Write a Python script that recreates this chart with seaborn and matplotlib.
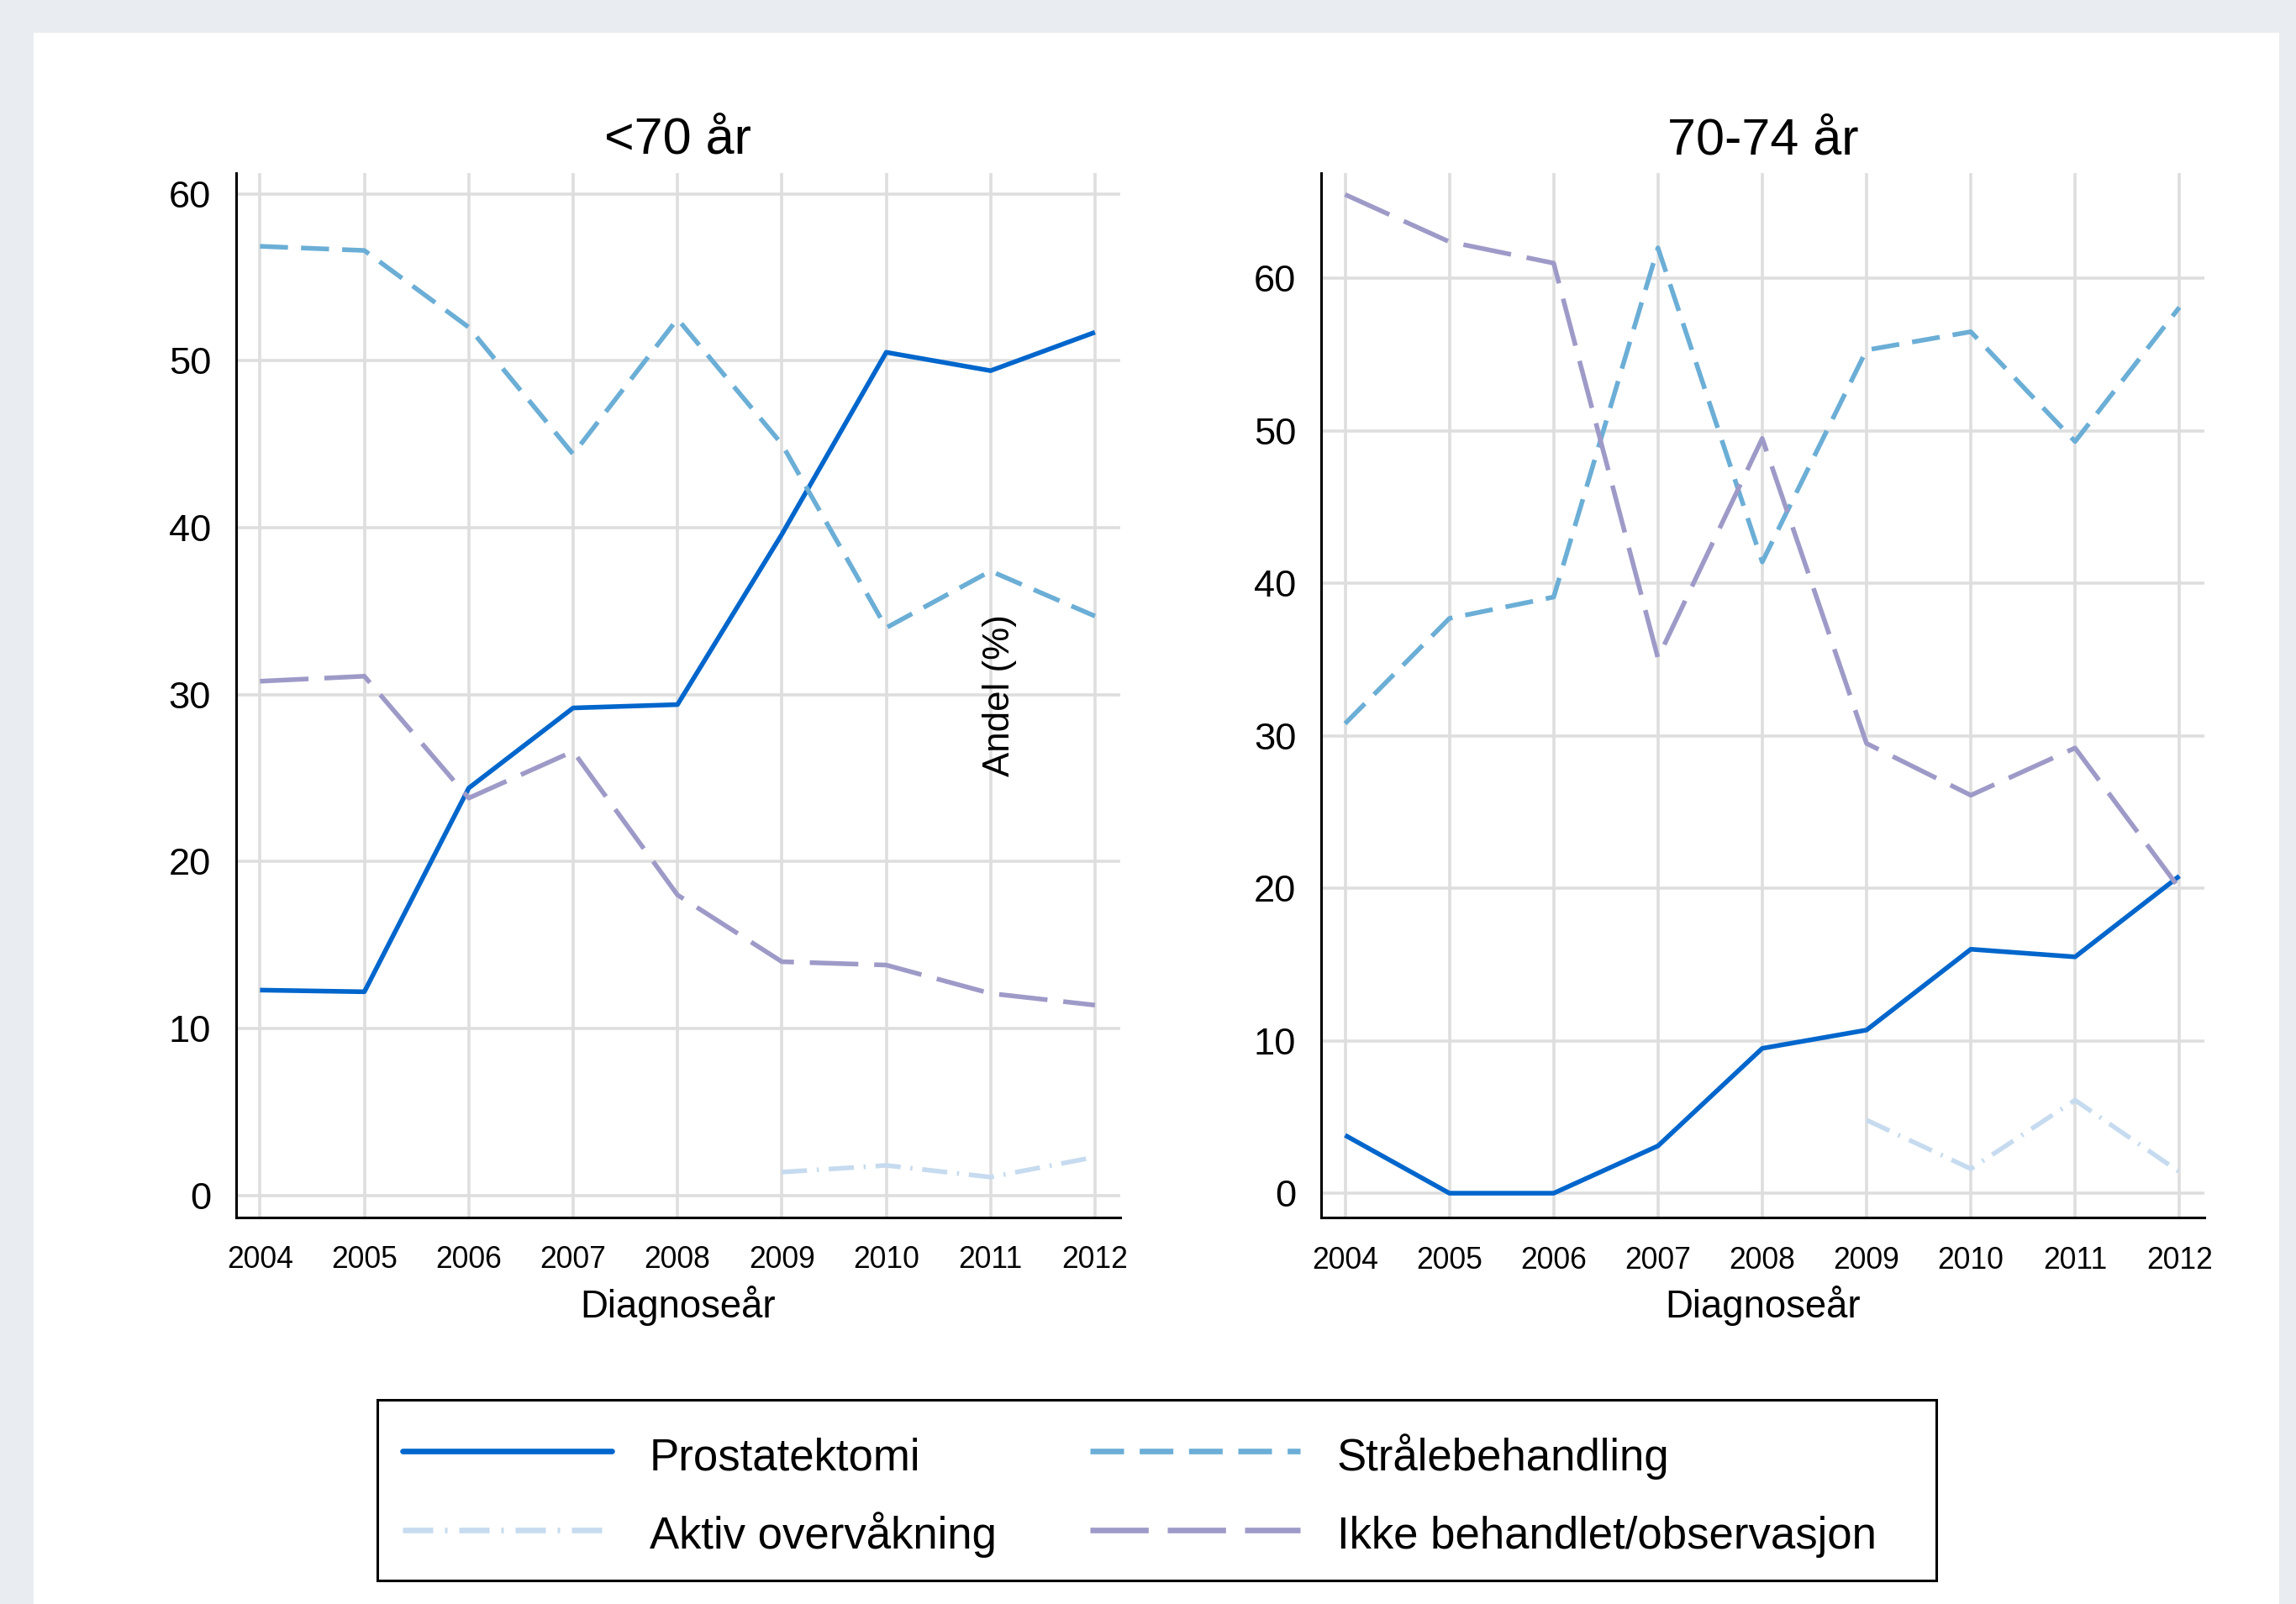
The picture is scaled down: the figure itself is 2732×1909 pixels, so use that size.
import numpy as np
import pandas as pd
import matplotlib
matplotlib.use("Agg")
import matplotlib.pyplot as plt
from matplotlib.lines import Line2D
from matplotlib.patches import Rectangle
import seaborn as sns

# ---- data -------------------------------------------------------------
years = [2004, 2005, 2006, 2007, 2008, 2009, 2010, 2011, 2012]
treatments = ["Prostatektomi", "Strålebehandling",
              "Aktiv overvåkning", "Ikke behandlet/observasjon"]
panel_titles = ["<70 år", "70-74 år"]
y_ticks = [0, 10, 20, 30, 40, 50, 60]

nan = np.nan
# <70 år
u70_prostatektomi = [12.3, 12.2, 24.4, 29.2, 29.4, 39.6, 50.5, 49.4, 51.7]
u70_straale = [56.85, 56.6, 52.0, 44.4, 52.5, 45.0, 34.0, 37.4, 34.7]
u70_aktiv = [nan, nan, nan, nan, nan, 1.4, 1.8, 1.1, 2.3]
u70_ikke = [30.8, 31.1, 23.8, 26.6, 18.0, 14.0, 13.8, 12.1, 11.4]
# 70-74 år
a7074_prostatektomi = [3.8, 0.0, 0.0, 3.1, 9.5, 10.7, 16.0, 15.5, 20.8]
a7074_straale = [30.8, 37.7, 39.1, 62.0, 41.4, 55.3, 56.5, 49.3, 58.1]
a7074_aktiv = [nan, nan, nan, nan, nan, 4.8, 1.6, 6.1, 1.4]
a7074_ikke = [65.5, 62.4, 61.0, 35.1, 49.5, 29.5, 26.1, 29.2, 20.0]

panel_series = [
    [u70_prostatektomi, u70_straale, u70_aktiv, u70_ikke],
    [a7074_prostatektomi, a7074_straale, a7074_aktiv, a7074_ikke],
]

# ---- styling ----------------------------------------------------------
colors = {
    "Prostatektomi": "#0066cc",
    "Strålebehandling": "#6baed6",
    "Aktiv overvåkning": "#c6dbef",
    "Ikke behandlet/observasjon": "#9e9ac8",
}
dashes = {
    "Prostatektomi": "",
    "Strålebehandling": (6.0, 2.8),
    "Aktiv overvåkning": (5.4, 2.1, 0.45, 2.1),
    "Ikke behandlet/observasjon": (10.4, 3.4),
}
LINE_W = 2.0

sns.set_style("white")
plt.rcParams["font.family"] = ["Liberation Sans", "DejaVu Sans"]
for key in ("text.color", "axes.labelcolor", "xtick.color", "ytick.color"):
    plt.rcParams[key] = "black"

W, H = 2732, 1909
DPI = 200
fig = plt.figure(figsize=(W / DPI, H / DPI), dpi=DPI, facecolor="#e9ecf1")

# white page behind the plots
fig.patches.append(Rectangle((40 / W, 0), (2712 - 40) / W, 1 - 39 / H,
                             transform=fig.transFigure, facecolor="white",
                             edgecolor="none", zorder=-1))

ax_boxes = [
    (280.8, 1332.7, 205.9, 1449.0),
    (1572.0, 2623.0, 206.1, 1449.3),
]
ylims = [(-1.32, 61.24), (-1.61, 66.9)]
xlim = (2003.77, 2012.24)

for i, (x0, x1, yt, yb) in enumerate(ax_boxes):
    ax = fig.add_axes([x0 / W, 1 - yb / H, (x1 - x0) / W, (yb - yt) / H])
    rows = []
    for name, vals in zip(treatments, panel_series[i]):
        for yr, v in zip(years, vals):
            if not np.isnan(v):
                rows.append({"Diagnoseår": yr, "Andel": v, "Behandling": name})
    df = pd.DataFrame(rows)
    sns.lineplot(data=df, x="Diagnoseår", y="Andel", hue="Behandling",
                 style="Behandling", hue_order=treatments,
                 style_order=treatments, palette=colors, dashes=dashes,
                 estimator=None, legend=False, ax=ax)
    for ln in ax.lines:
        ln.set_linewidth(LINE_W)
        ln.set_solid_capstyle("butt")

    ax.set_xlim(*xlim)
    ax.set_ylim(*ylims[i])
    ax.set_xticks(years)
    ax.set_xticklabels([str(y) for y in years])
    ax.set_yticks(y_ticks)
    ax.grid(True, color="#dedede", linewidth=1.3)
    ax.set_axisbelow(True)
    for side in ("top", "right"):
        ax.spines[side].set_visible(False)
    for side in ("left", "bottom"):
        ax.spines[side].set_color("black")
        ax.spines[side].set_linewidth(1.1)
    ax.tick_params(axis="both", which="major", direction="out", length=6.4,
                   width=1.1, color="black")
    ax.tick_params(axis="y", labelsize=16.3, pad=4.3)
    ax.tick_params(axis="x", labelsize=12.8, pad=5.6)
    ax.set_ylabel("")
    ax.set_xlabel("Diagnoseår", fontsize=16.4, labelpad=4.5)
    ax.set_title(panel_titles[i], fontsize=22, pad=8.3)

fig.text(1189 / W, 1 - 828 / H, "Andel (%)", rotation=90, ha="center",
         va="center", fontsize=15.8)

# legend: two rows, filled row by row
order = ["Prostatektomi", "Aktiv overvåkning",
         "Strålebehandling", "Ikke behandlet/observasjon"]
handles = [Line2D([], [], color=colors[n], linewidth=2.4,
                  linestyle=((0, dashes[n]) if dashes[n] else "-"))
           for n in order]
leg_left, leg_right, leg_top, leg_bottom = 448.5, 2304.0, 1665.5, 1881.0
leg = fig.legend(handles, order, loc="upper left",
                 bbox_to_anchor=(leg_left / W, 1 - (leg_top + 10.5) / H,
                                 (leg_right - 41 - leg_left) / W, 0.001),
                 mode="expand", ncol=2, fontsize=19, frameon=False,
                 borderpad=0.57, labelspacing=0.71, handleheight=1.23,
                 handlelength=4.73, handletextpad=0.84, borderaxespad=0)
fig.patches.append(Rectangle((leg_left / W, 1 - leg_bottom / H),
                             (leg_right - leg_left) / W,
                             (leg_bottom - leg_top) / H,
                             transform=fig.transFigure, facecolor="white",
                             edgecolor="black", linewidth=1.1, zorder=0))

fig.savefig("out.png", dpi=DPI, facecolor=fig.get_facecolor())
